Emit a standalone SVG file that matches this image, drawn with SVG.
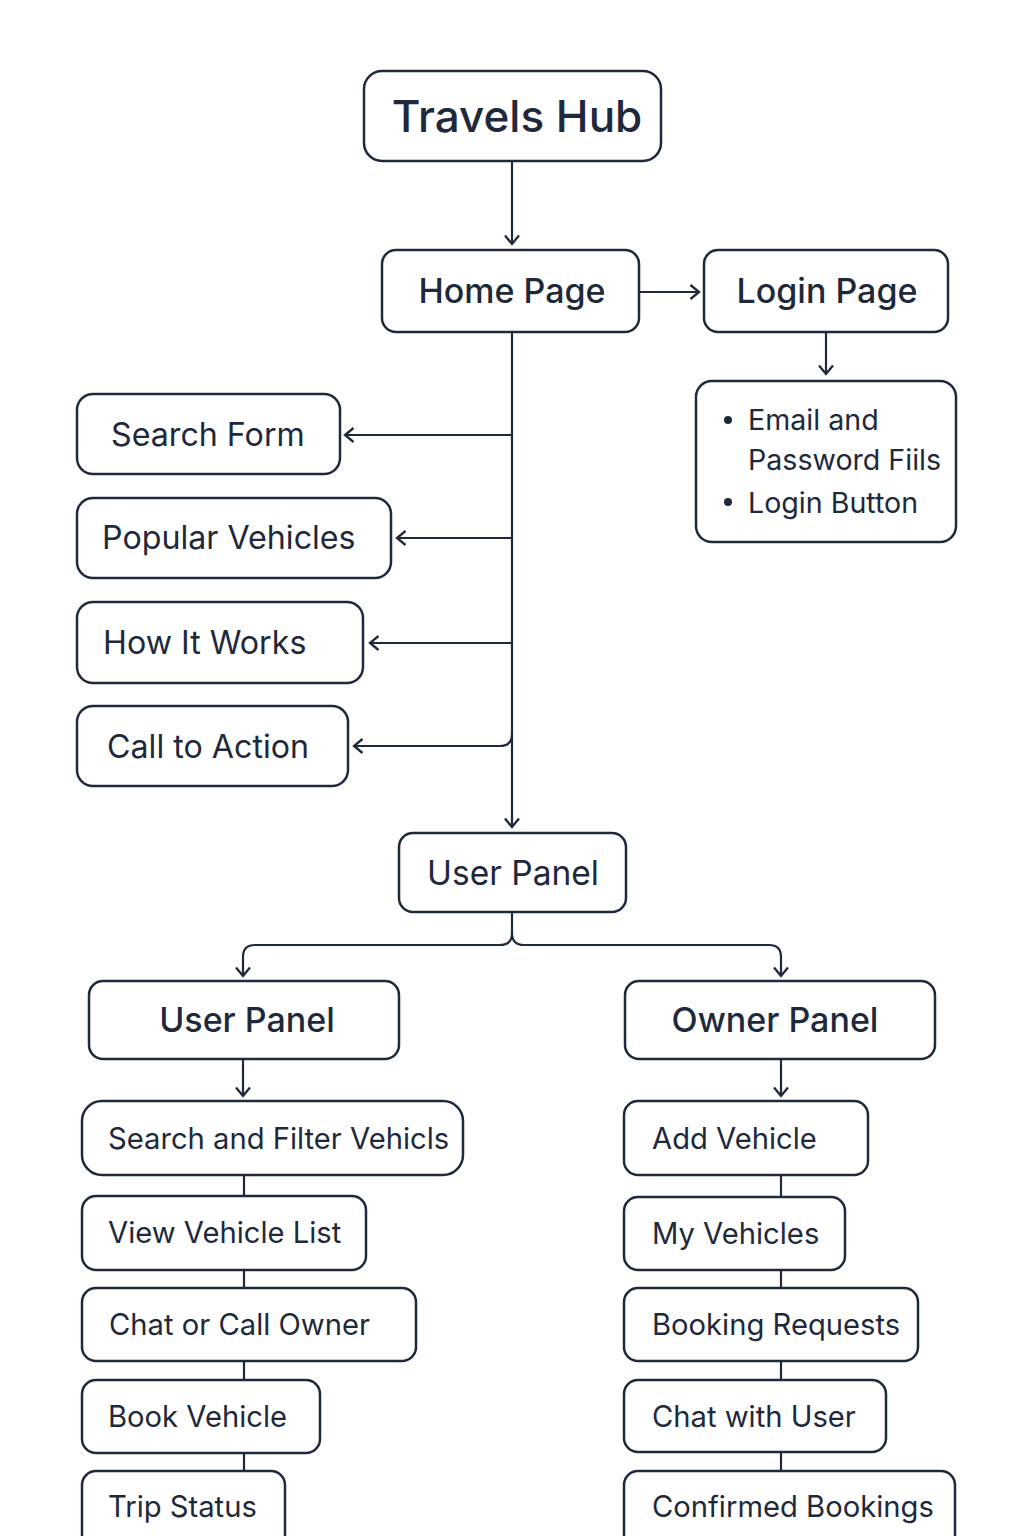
<svg xmlns="http://www.w3.org/2000/svg" width="1024" height="1536" viewBox="0 0 1024 1536">
<defs>
<style>
.box{fill:#ffffff;stroke:#1e293b;stroke-width:2.5}
.ln{fill:none;stroke:#1e293b;stroke-width:2.2}
.t{font-family:Inter,"Noto Sans",sans-serif;fill:#1e293b}
.h{font-weight:500;text-anchor:middle}
.m{font-size:32.2px}
.s{font-size:29.2px}
</style>
<marker id="ar" viewBox="0 0 16 16" refX="14" refY="8" markerWidth="16" markerHeight="16" markerUnits="userSpaceOnUse" orient="auto">
<path d="M5.5 1 L14 8 L5.5 15" fill="none" stroke="#1e293b" stroke-width="2.3"/>
</marker>
</defs>
<rect width="1024" height="1536" fill="#ffffff"/>
<g id="connectors">
<path class="ln" d="M512 161 V244" marker-end="url(#ar)"/>
<path class="ln" d="M639 292 H699" marker-end="url(#ar)"/>
<path class="ln" d="M826 332 V374" marker-end="url(#ar)"/>
<path class="ln" d="M512 332 V827" marker-end="url(#ar)"/>
<path class="ln" d="M512 435 H345" marker-end="url(#ar)"/>
<path class="ln" d="M512 538 H397" marker-end="url(#ar)"/>
<path class="ln" d="M512 643 H370" marker-end="url(#ar)"/>
<path class="ln" d="M512 734 Q512 746 500 746 H354" marker-end="url(#ar)"/>
<path class="ln" d="M512 912 V933 Q512 945 500 945 H255 Q243 945 243 957 V976" marker-end="url(#ar)"/>
<path class="ln" d="M512 933 Q512 945 524 945 H769 Q781 945 781 957 V976" marker-end="url(#ar)"/>
<path class="ln" d="M243 1059 V1096" marker-end="url(#ar)"/>
<path class="ln" d="M781 1059 V1096" marker-end="url(#ar)"/>
<path class="ln" d="M244 1175 V1196 M244 1270 V1288 M244 1361 V1380 M244 1453 V1471"/>
<path class="ln" d="M781 1175 V1197 M781 1270 V1288 M781 1361 V1380 M781 1452 V1471"/>
</g>
<g id="travels-hub"><rect class="box" x="364" y="71" width="297" height="90" rx="18"/><text class="t h" x="517" y="132" font-size="44">Travels Hub</text></g>
<g id="home-page"><rect class="box" x="382" y="250" width="257" height="82" rx="14"/><text class="t h" x="512" y="303" font-size="34">Home Page</text></g>
<g id="login-page"><rect class="box" x="704" y="250" width="244" height="82" rx="14"/><text class="t h" x="827" y="303" font-size="34">Login Page</text></g>
<g id="login-details"><rect class="box" x="696" y="381" width="260" height="161" rx="16"/>
<circle cx="728" cy="420" r="4" fill="#1e293b"/><circle cx="728" cy="502" r="4" fill="#1e293b"/>
<text class="t" font-size="28.6" x="748" y="430">Email and</text><text class="t" font-size="28.6" x="748" y="470">Password Fiils</text><text class="t" font-size="28.6" x="748" y="513">Login Button</text></g>
<g id="search-form"><rect class="box" x="77" y="394" width="263" height="80" rx="16"/><text class="t m" x="111" y="446">Search Form</text></g>
<g id="popular-vehicles"><rect class="box" x="77" y="498" width="314" height="80" rx="16"/><text class="t m" x="102" y="549">Popular Vehicles</text></g>
<g id="how-it-works"><rect class="box" x="77" y="602" width="286" height="81" rx="16"/><text class="t m" x="103" y="654">How It Works</text></g>
<g id="call-to-action"><rect class="box" x="77" y="706" width="271" height="80" rx="16"/><text class="t m" x="107" y="758">Call to Action</text></g>
<g id="user-panel-main"><rect class="box" x="399" y="833" width="227" height="79" rx="14"/><text class="t" x="513" y="885" font-size="33.5" text-anchor="middle">User Panel</text></g>
<g id="user-panel"><rect class="box" x="89" y="981" width="310" height="78" rx="14"/><text class="t h" x="247" y="1032" font-size="34">User Panel</text></g>
<g id="owner-panel"><rect class="box" x="625" y="981" width="310" height="78" rx="14"/><text class="t h" x="775" y="1032" font-size="34">Owner Panel</text></g>
<g id="search-filter"><rect class="box" x="82" y="1101" width="381" height="74" rx="20"/><text class="t s" x="108" y="1149">Search and Filter Vehicls</text></g>
<g id="view-list"><rect class="box" x="82" y="1196" width="284" height="74" rx="14"/><text class="t s" x="108" y="1243">View Vehicle List</text></g>
<g id="chat-owner"><rect class="box" x="82" y="1288" width="334" height="73" rx="14"/><text class="t s" x="109" y="1335">Chat or Call Owner</text></g>
<g id="book-vehicle"><rect class="box" x="82" y="1380" width="238" height="73" rx="14"/><text class="t s" x="108" y="1427">Book Vehicle</text></g>
<g id="trip-status"><rect class="box" x="82" y="1471" width="203" height="80" rx="14"/><text class="t s" x="108" y="1517">Trip Status</text></g>
<g id="add-vehicle"><rect class="box" x="624" y="1101" width="244" height="74" rx="14"/><text class="t s" x="652" y="1149">Add Vehicle</text></g>
<g id="my-vehicles"><rect class="box" x="624" y="1197" width="221" height="73" rx="14"/><text class="t s" x="652" y="1244">My Vehicles</text></g>
<g id="booking-requests"><rect class="box" x="624" y="1288" width="294" height="73" rx="14"/><text class="t s" x="652" y="1335">Booking Requests</text></g>
<g id="chat-user"><rect class="box" x="624" y="1380" width="262" height="72" rx="14"/><text class="t s" x="652" y="1427">Chat with User</text></g>
<g id="confirmed-bookings"><rect class="box" x="624" y="1471" width="331" height="80" rx="14"/><text class="t s" x="652" y="1517">Confirmed Bookings</text></g>
</svg>
